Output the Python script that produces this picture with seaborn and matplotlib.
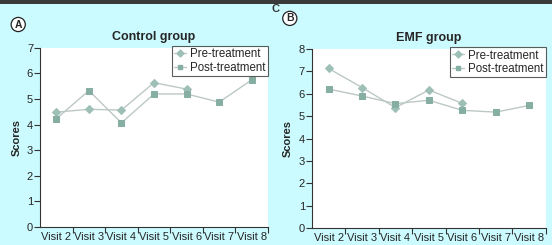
import matplotlib
matplotlib.use("Agg")
import matplotlib.pyplot as plt
import pandas as pd
import seaborn as sns

visits = ["Visit 2", "Visit 3", "Visit 4", "Visit 5", "Visit 6", "Visit 7", "Visit 8"]

control_pre = [4.49, 4.60, 4.57, 5.64, 5.39]
control_post = [4.23, 5.33, 4.07, 5.20, 5.20, 4.88, 5.75]

emf_pre = [7.13, 6.28, 5.38, 6.17, 5.57]
emf_post = [6.21, 5.90, 5.56, 5.71, 5.26, 5.18, 5.48]

BG = "#ccfbff"
LINE = "#bcc8c6"
PRE_C = "#9dbfb6"
POST_C = "#86aea2"


def long_frame(pre, post):
    rows = []
    for i, v in enumerate(pre):
        rows.append({"pos": i, "score": v, "series": "Pre-treatment"})
    for i, v in enumerate(post):
        rows.append({"pos": i, "score": v, "series": "Post-treatment"})
    return pd.DataFrame(rows)


def draw_panel(ax, df, title, ymax):
    sns.lineplot(data=df, x="pos", y="score", hue="series", style="series",
                 markers={"Pre-treatment": "D", "Post-treatment": "s"},
                 dashes=False, palette={"Pre-treatment": LINE, "Post-treatment": LINE},
                 linewidth=1.0, markersize=4.5, ax=ax, legend=False)
    # recolor markers
    for line, col in zip(ax.get_lines(), [PRE_C, POST_C]):
        line.set_markerfacecolor(col)
        line.set_markeredgecolor(col)
    ax.set_xlim(-0.5, 6.5)
    ax.set_ylim(0, ymax)
    ax.set_yticks(range(0, ymax + 1))
    ax.set_xticks([i + 0.5 for i in range(7)])
    ax.set_xticklabels([])
    ax.set_xticks(range(7), minor=True)
    ax.set_xticklabels(visits, minor=True)
    ax.tick_params(axis="x", which="minor", bottom=False, length=0, pad=3.5, labelsize=8)
    ax.tick_params(axis="x", which="major", bottom=True, length=4, width=0.8,
                   color="#333333", direction="out")
    ax.tick_params(axis="y", left=True, length=4, width=0.8, color="#333333",
                   labelsize=8, pad=1, direction="out")
    ax.set_facecolor("white")
    for s in ["top", "right"]:
        ax.spines[s].set_visible(False)
    for s in ["left", "bottom"]:
        ax.spines[s].set_color("#333333")
        ax.spines[s].set_linewidth(0.8)
    ax.set_xlabel("")
    ax.set_ylabel("Scores", fontsize=8, fontweight="bold", labelpad=4)
    ax.set_title(title, fontsize=9, fontweight="bold", pad=6)
    ax.grid(False)

    handles = [
        plt.Line2D([], [], color=LINE, marker="D", markersize=3.5,
                   markerfacecolor=PRE_C, markeredgecolor=PRE_C, linewidth=1),
        plt.Line2D([], [], color=LINE, marker="s", markersize=3.5,
                   markerfacecolor=POST_C, markeredgecolor=POST_C, linewidth=1),
    ]
    leg = ax.legend(handles, ["Pre-treatment", "Post-treatment"], loc="upper right",
                    bbox_to_anchor=(1.0, 1.01), fontsize=8.3, frameon=True, fancybox=False,
                    handlelength=1.0, handletextpad=0.4, borderpad=0.2,
                    labelspacing=0.1, borderaxespad=0.0)
    leg.get_frame().set_edgecolor("#333333")
    leg.get_frame().set_linewidth(0.8)


sns.set_theme(style="white")
plt.rcParams["font.family"] = ["Liberation Sans", "DejaVu Sans"]

fig = plt.figure(figsize=(5.52, 2.45), dpi=100)
fig.patch.set_facecolor(BG)

ax_a = fig.add_axes([0.0725, 0.0735, 0.413, 0.731])
ax_b = fig.add_axes([0.565, 0.069, 0.424, 0.731])

draw_panel(ax_a, long_frame(control_pre, control_post), "Control group", 7)
draw_panel(ax_b, long_frame(emf_pre, emf_post), "EMF group", 8)

# top dark strip
fig.patches.append(plt.Rectangle((0, 0.982), 1, 0.018, transform=fig.transFigure,
                                 facecolor="#3a3a3a", edgecolor="none", zorder=5))

for x, y, letter in [(0.033, 0.90, "A"), (0.525, 0.925, "B")]:
    fig.text(x, y, letter, fontsize=7.5, fontweight="bold", ha="center", va="center",
             bbox=dict(boxstyle="circle,pad=0.2", facecolor="white", edgecolor="#222222",
                       linewidth=0.9))

fig.text(0.499, 0.962, "C", fontsize=8, fontweight="bold", color="#333333",
         ha="center", va="center")

fig.savefig("out.png", dpi=100, facecolor=fig.get_facecolor())
